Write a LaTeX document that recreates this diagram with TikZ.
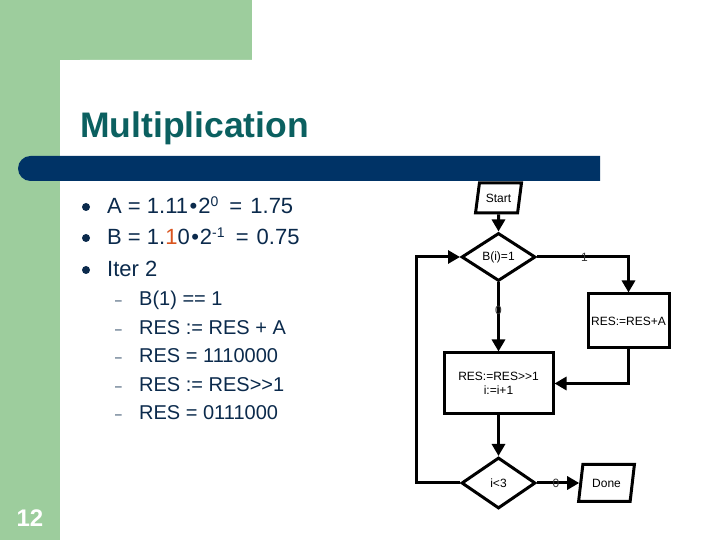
\documentclass[tikz,border=0pt]{standalone}
\usepackage{fontspec}
\setmainfont{Liberation Sans}
\usetikzlibrary{shapes.geometric,arrows.meta}
\definecolor{slidegreen}{HTML}{9DCD9D}
\definecolor{barblue}{HTML}{003366}
\definecolor{titleteal}{HTML}{0B6060}
\definecolor{bodynavy}{HTML}{0B2A4C}
\definecolor{hiorange}{HTML}{D9541E}
\tikzstyle{block} = [rectangle, draw, line width=3pt, text centered,
    font=\fontsize{12}{14}\selectfont, inner sep=1pt]
\tikzstyle{decision} = [diamond, draw, line width=3pt, aspect=1.5,
    minimum width=74pt, minimum height=48pt, inner sep=0pt,
    font=\fontsize{12}{14}\selectfont]
\tikzstyle{io} = [trapezium, draw, line width=3pt, trapezium left angle=75,
    trapezium right angle=105, trapezium stretches=true, inner sep=1pt,
    font=\fontsize{12}{14}\selectfont]
\tikzstyle{line} = [draw, line width=3pt, -{Triangle[length=12pt,width=13pt]}]
\tikzstyle{bul} = [anchor=base west, text=bodynavy, inner sep=0pt,
    font=\fontsize{22}{25}\selectfont]
\tikzstyle{subbul} = [anchor=base west, text=bodynavy, inner sep=0pt,
    font=\fontsize{20}{23}\selectfont]
\tikzstyle{elabel} = [font=\fontsize{12}{14}\selectfont, text=black!80, inner sep=1pt]
\newcommand{\supr}[1]{\raisebox{0.65ex}{\fontsize{14}{14}\selectfont #1}\hspace{5pt}}
\newcommand{\dotop}{\hspace{1.5pt}•\hspace{1pt}}

\begin{document}
\begin{tikzpicture}[x=1pt, y=1pt, node distance=60pt]
    \useasboundingbox (0,0) rectangle (720,540);
    % Slide background
    \fill[white] (0,0) rectangle (720,540);
    \fill[slidegreen] (0,0) rectangle (60,540);
    \fill[slidegreen] (0,480) rectangle (252,540);
    \fill[white, rounded corners=20pt] (60,-30) rectangle (760,480);
    \fill[barblue] (600,359) -- (30.5,359) arc[start angle=-90, end angle=-270, radius=12.5] -- (600,384) -- cycle;
    \node [anchor=base west, inner sep=0pt, text=titleteal,
        font=\fontsize{35.5}{40}\selectfont\bfseries] (title) at (80,402) {Multiplication};
    \node [anchor=base, inner sep=0pt, text=white,
        font=\fontsize{24}{28}\selectfont\bfseries] (page) at (30,13) {12};

    % Place bullet text
    \fill[bodynavy] (86,333) circle (4);
    \fill[bodynavy] (86,302) circle (4);
    \fill[bodynavy] (86,270) circle (4);
    \node [bul] (l1) at (107,326) {A = 1.11\dotop2\supr{0} = \hspace{2pt}1.75};
    \node [bul] (l2) at (107,295) {B = 1.{\color{hiorange}1}0\dotop2\supr{-1} = \hspace{2pt}0.75};
    \node [bul] (l3) at (107,263) {Iter 2};
    \foreach \y/\txt in {234/{B(1) == 1}, 205/{RES := RES + A}, 177/{RES = 1110000},
        148/{RES := RES>{}>1}, 120/{RES = 0111000}} {
        \node [anchor=base west, inner sep=0pt, text=bodynavy,
            font=\fontsize{12}{14}\selectfont] at (115,\y+1) {–};
        \node [subbul] at (139,\y) {\txt};
    }

    % Place flowchart nodes
    \node [io, minimum width=46pt, minimum height=30pt] (start) at (498.5,342) {Start};
    \node [decision, below of=start, node distance=59pt] (bit) {B(i)=1};
    \node [block, below of=bit, node distance=126.5pt, minimum width=109pt,
        minimum height=61pt, align=center] (shift) {RES:=RES>{}>1\\i:=i+1};
    \node [decision, below of=shift, node distance=99.5pt, minimum height=51pt] (iter) {i<3};
    \node [block, right of=bit, node distance=130pt, yshift=-64pt,
        minimum width=81pt, minimum height=54pt] (add) {RES:=RES+A};
    \node [io, right of=iter, node distance=108pt, minimum width=56pt,
        minimum height=37pt] (done) {Done};

    % Draw edges
    \path [line] (start) -- (bit);
    \path [line] (bit.east) -| node[elabel, pos=0.26] {1} (add.north);
    \path [line] (bit.south) -- node[elabel, pos=0.41] {0} (shift.north);
    \path [line] (add.south) |- (shift.east);
    \path [line] (shift.south) -- (iter.north);
    \path [line] (iter.west) -- ++(-44pt,0) |- (bit.west);
    \path [line] (iter.east) -- node[elabel, pos=0.45] {0} (done);
\end{tikzpicture}
\end{document}
